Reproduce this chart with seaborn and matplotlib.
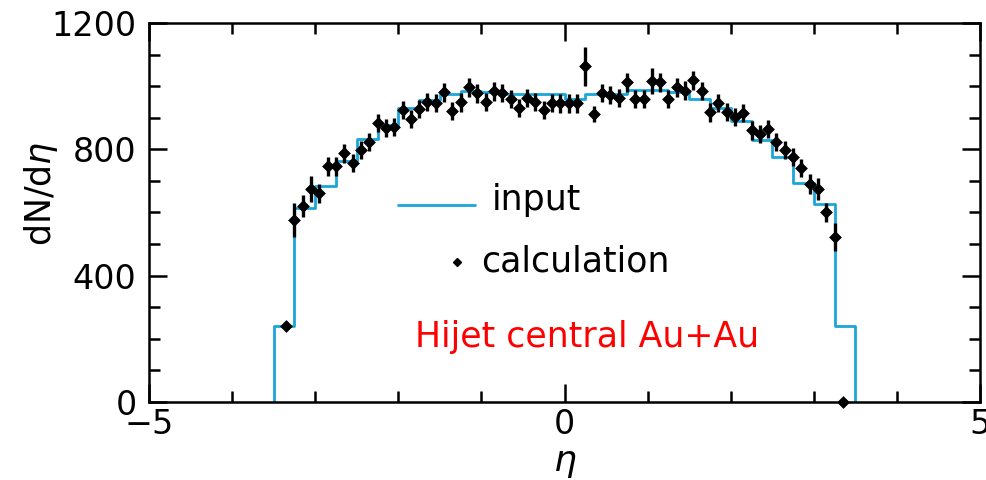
import numpy as np
import pandas as pd
import seaborn as sns
import matplotlib.pyplot as plt

# input histogram (bins of 0.25 in eta, from -3.5 to 3.5)
bin_edges = np.arange(-3.5, 3.5001, 0.25)
input_vals = [240, 614, 684, 763, 832, 877, 930, 955, 975, 985, 980, 975, 975, 975,
              958, 975, 975, 987, 987, 981, 958, 930, 889, 829, 775, 693, 627, 240]

# calculation points
calc_eta = np.round(np.arange(-3.35, 3.3501, 0.1), 2)
calc_vals = [240, 576, 620, 674, 661, 747, 747, 788, 756, 797,
             823, 883, 867, 870, 924, 897, 928, 950, 946, 981,
             921, 949, 997, 978, 949, 984, 978, 959, 930, 962,
             949, 925, 946, 946, 946, 946, 1063, 911, 978, 971,
             962, 1013, 959, 959, 1016, 1013, 959, 997, 986, 1019,
             984, 918, 946, 918, 902, 915, 861, 848, 864, 823,
             797, 775, 740, 690, 674, 601, 522, 0]
calc_err = [10, 55, 35, 40, 30, 30, 30, 30, 28, 28,
            28, 28, 28, 28, 28, 28, 28, 28, 28, 30,
            28, 30, 30, 30, 28, 30, 28, 28, 28, 28,
            28, 28, 28, 30, 30, 30, 62, 25, 28, 28,
            28, 30, 28, 28, 40, 30, 28, 30, 30, 30,
            28, 30, 28, 28, 28, 28, 30, 28, 28, 28,
            28, 28, 28, 32, 35, 30, 45, 5]

cyan = "#1aa6d9"

sns.set_style('ticks')
plt.rcParams['font.family'] = ['DejaVu Sans']
plt.rcParams['mathtext.fontset'] = 'dejavusans'
plt.rcParams['text.color'] = 'black'
plt.rcParams['axes.labelcolor'] = 'black'

fig = plt.figure(figsize=(9.87, 4.8), dpi=100)
ax = fig.add_axes([0.151, 0.1625, 0.842, 0.7896])

# step outline of the input distribution
step_x = np.concatenate([[bin_edges[0]], bin_edges])
step_y = np.concatenate([[0], input_vals, [0]])
hist_df = pd.DataFrame({'eta': step_x, 'dndeta': step_y})
sns.lineplot(data=hist_df, x='eta', y='dndeta', estimator=None, sort=False,
             drawstyle='steps-post', color=cyan, lw=2, ax=ax)

# calculation with error bars
ax.errorbar(calc_eta, calc_vals, yerr=calc_err, xerr=0.045, fmt='none',
            ecolor='black', elinewidth=2.4, capsize=0, clip_on=False, zorder=3)
sns.scatterplot(x=calc_eta, y=calc_vals, marker='D', s=36, color='black',
                edgecolor='black', linewidth=0.5, clip_on=False, zorder=4, ax=ax)

ax.set_xlim(-5, 5)
ax.set_ylim(0, 1200)
ax.set_xticks([-5, 0, 5])
ax.set_xticks(np.arange(-4, 5, 1), minor=True)
ax.set_yticks([0, 400, 800, 1200])
ax.set_yticks(np.arange(0, 1201, 100), minor=True)
ax.tick_params(which='both', direction='in', top=True, right=True,
               width=1.8, colors='black', labelsize=24)
ax.tick_params(which='major', length=13)
ax.tick_params(which='minor', length=8)
ax.tick_params(axis='y', pad=9)
ax.tick_params(axis='x', pad=4)
for sp in ax.spines.values():
    sp.set_linewidth(1.8)
    sp.set_color('black')

ax.set_xlabel(r'$\eta$', fontsize=26)
ax.set_ylabel(r'dN/d$\eta$', fontsize=25)
ax.xaxis.set_label_coords(0.5, -0.115)
ax.yaxis.set_label_coords(-0.107, 0.55)

# legend drawn by hand
ax.plot([0.2996, 0.3923], [0.520, 0.520], transform=ax.transAxes, color=cyan, lw=2)
ax.text(0.4128, 0.532, 'input', transform=ax.transAxes, fontsize=25, va='center', ha='left')
ax.plot([0.3706], [0.369], transform=ax.transAxes, marker='D', ms=4, color='black')
ax.text(0.3994, 0.372, 'calculation', transform=ax.transAxes, fontsize=25, va='center', ha='left')
ax.text(0.3200, 0.172, 'Hijet central Au+Au', transform=ax.transAxes, fontsize=25,
        color='#ff0000', va='center', ha='left')

fig.savefig('out.png', dpi=100)
